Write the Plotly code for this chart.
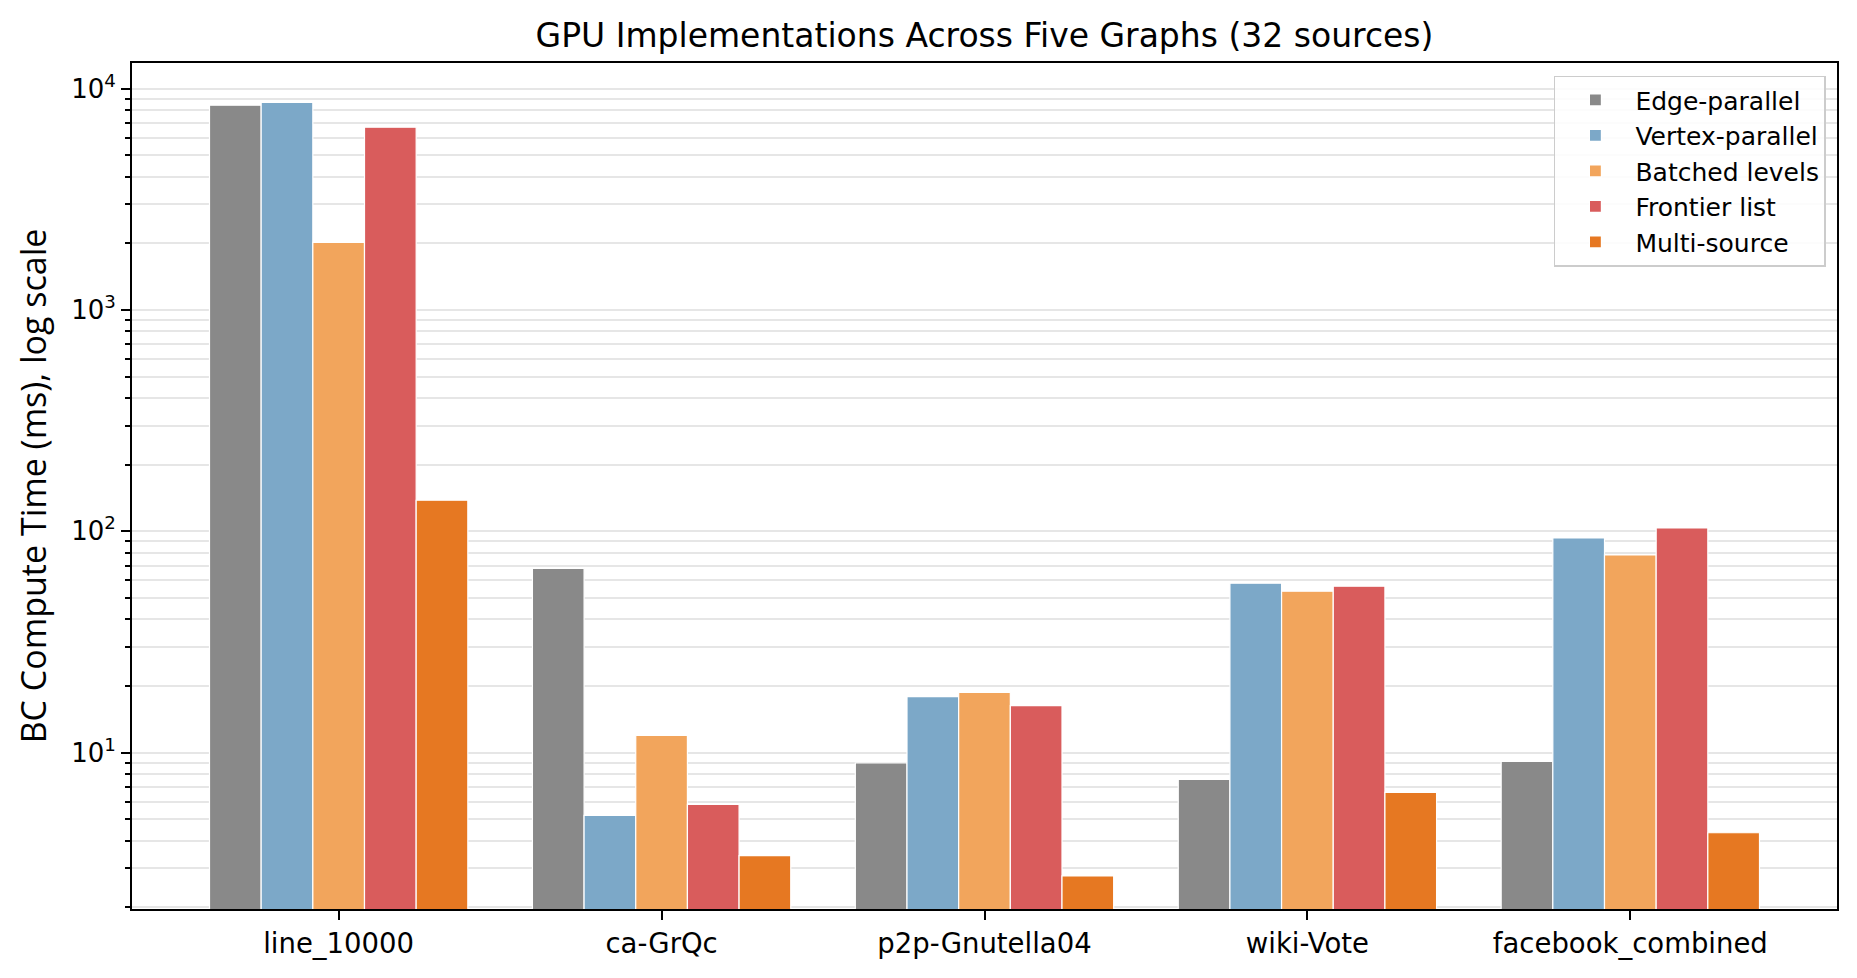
import plotly.graph_objects as go

graphs = ["line_10000", "ca-GrQc", "p2p-Gnutella04", "wiki-Vote", "facebook_combined"]
series_names = ["Edge-parallel", "Vertex-parallel", "Batched levels", "Frontier list", "Multi-source"]

edge_parallel = [8410, 68.0, 8.97, 7.56, 9.13]
vertex_parallel = [8670, 5.20, 17.9, 58.2, 93.3]
batched_levels = [2020, 11.96, 18.7, 53.6, 78.1]
frontier_list = [6690, 5.83, 16.3, 56.4, 103.5]
multi_source = [138, 3.42, 2.77, 6.60, 4.34]

values = [edge_parallel, vertex_parallel, batched_levels, frontier_list, multi_source]
colors = ["#898989", "#7ca8c8", "#f2a55c", "#d95c5c", "#e67822"]

major_vals = [10, 100, 1000, 10000]
major_text = ["10<sup>1</sup>", "10<sup>2</sup>", "10<sup>3</sup>", "10<sup>4</sup>"]
minor_vals = [m * 10 ** e for e in range(0, 4) for m in range(2, 10)]

fig = go.Figure()
for name, vals, col in zip(series_names, values, colors):
    fig.add_trace(go.Bar(
        x=graphs, y=vals, name=name,
        marker=dict(color=col, line=dict(color="white", width=1.2)),
    ))

W, H = 1857, 978
L, R, T, B = 132, 20, 63, 69

fig.update_layout(
    width=W, height=H,
    margin=dict(l=L, r=R, t=T, b=B),
    paper_bgcolor="white", plot_bgcolor="white",
    barmode="group", bargap=0.2, bargroupgap=0,
    font=dict(family="DejaVu Sans", color="black"),
    title=dict(text="GPU Implementations Across Five Graphs (32 sources)",
               x=0.5, xanchor="center", xref="paper",
               y=1 - 35 / H, yanchor="middle",
               font=dict(size=33, family="DejaVu Sans", color="black")),
    legend=dict(x=0.9935, xanchor="right", y=0.985, yanchor="top",
                bgcolor="rgba(255,255,255,0.85)", bordercolor="#cccccc", borderwidth=1.5,
                font=dict(size=25, family="DejaVu Sans", color="black"),
                itemwidth=70, tracegroupgap=0),
    showlegend=True,
)

fig.update_xaxes(
    range=[-0.64, 4.64],
    showline=True, linecolor="black", linewidth=2, mirror=True,
    ticks="outside", ticklen=9, tickwidth=2, tickcolor="black",
    tickfont=dict(size=27.5, family="DejaVu Sans", color="black"),
    showgrid=False,
)

fig.update_yaxes(
    type="log", range=[0.293, 4.1156],
    showline=True, linecolor="black", linewidth=2, mirror=True,
    tickmode="array", tickvals=major_vals, ticktext=major_text,
    ticks="outside", ticklen=9, tickwidth=2, tickcolor="black",
    tickfont=dict(size=26, family="DejaVu Sans", color="black"),
    showgrid=True, gridcolor="#e6e6e6", gridwidth=1.5,
    minor=dict(tickmode="array", tickvals=minor_vals, ticks="outside", ticklen=5,
               tickwidth=1.5, tickcolor="black", showgrid=True,
               gridcolor="#e6e6e6", gridwidth=1.5),
    title=dict(text="BC Compute Time (ms), log scale", standoff=14,
               font=dict(size=34, family="Open Sans", color="black")),
)

fig.write_html("out.html")
